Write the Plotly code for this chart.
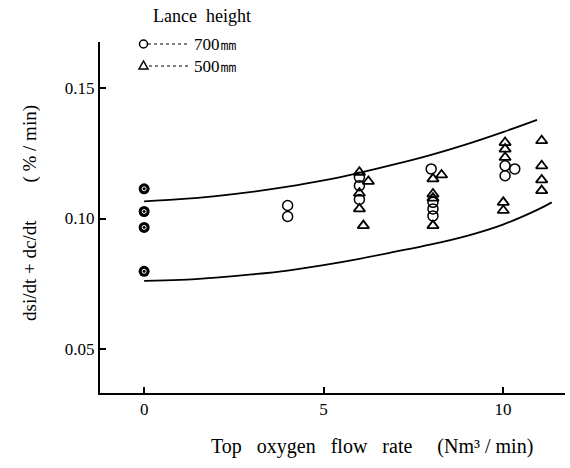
import plotly.graph_objects as go

# ---- data ----
zero_x = [0, 0, 0, 0]
zero_y = [0.1114, 0.1027, 0.0966, 0.0798]

circ_x = [4.0, 4.0, 6.0, 6.0, 6.0, 8.0, 8.05, 8.05, 8.05, 10.06, 10.33, 10.06]
circ_y = [0.1050, 0.1008, 0.1158, 0.1126, 0.1073, 0.1190, 0.1062, 0.1037, 0.1010, 0.1202, 0.1190, 0.1164]

tri_x = [6.0, 6.25, 6.0, 6.0, 6.11, 8.29, 8.05, 8.05, 8.05, 8.05,
         10.06, 10.06, 10.06, 10.01, 10.01, 11.08, 11.08, 11.08, 11.08]
tri_y = [0.1177, 0.1142, 0.1097, 0.1037, 0.0973, 0.1167, 0.1152, 0.1094, 0.1078, 0.0973,
         0.1291, 0.1266, 0.1234, 0.1062, 0.1031, 0.1298, 0.1202, 0.1148, 0.1107]

upper_x = [0, 1, 2, 3, 4, 5, 6, 7, 8, 9, 10, 10.95]
upper_y = [0.1066, 0.1074, 0.1086, 0.1102, 0.1122, 0.1146, 0.1175, 0.1208, 0.1244, 0.1285, 0.1331, 0.1378]

lower_x = [0, 1, 2, 3, 4, 5, 6, 7, 8, 9, 10, 11, 11.36]
lower_y = [0.0761, 0.0765, 0.0774, 0.0786, 0.0801, 0.0822, 0.0846, 0.0873, 0.0901, 0.0934, 0.0977, 0.1036, 0.1062]

x_ticks = [0, 5, 10]
y_ticks = [0.05, 0.10, 0.15]
y_tick_text = ["0.05", "0.10", "0.15"]

FONT = "Liberation Serif"

fig = go.Figure()
fig.add_trace(go.Scatter(x=upper_x, y=upper_y, mode="lines", line=dict(color="black", width=1.8, shape="spline"), showlegend=False))
fig.add_trace(go.Scatter(x=lower_x, y=lower_y, mode="lines", line=dict(color="black", width=1.8, shape="spline"), showlegend=False))
fig.add_trace(go.Scatter(x=circ_x, y=circ_y, mode="markers",
                         marker=dict(symbol="circle-open", size=10, color="black", line=dict(width=1.5, color="black")),
                         showlegend=False))
fig.add_trace(go.Scatter(x=tri_x, y=tri_y, mode="markers",
                         marker=dict(symbol="triangle-up-open", size=10, color="black", line=dict(width=1.8, color="black")),
                         showlegend=False))
fig.add_trace(go.Scatter(x=zero_x, y=zero_y, mode="markers",
                         marker=dict(symbol="circle", size=11, color="black", line=dict(width=0)),
                         showlegend=False))
fig.add_trace(go.Scatter(x=zero_x, y=zero_y, mode="markers",
                         marker=dict(symbol="circle-open", size=4, color="white", line=dict(width=1, color="white")),
                         showlegend=False))

L, R, T, B = 100, 5, 42, 75
W, H = 570, 468
pw, ph = W - L - R, H - T - B

def px(x):
    return (x - L) / pw

def py(y):
    return (H - B - y) / ph

shapes = []
annotations = []
# legend
shapes.append(dict(type="circle", xref="paper", yref="paper",
                   x0=px(139.5), x1=px(147.5), y0=py(48), y1=py(40),
                   line=dict(color="black", width=1.5)))
shapes.append(dict(type="line", xref="paper", yref="paper",
                   x0=px(148), x1=px(188), y0=py(44), y1=py(44),
                   line=dict(color="black", width=1.2, dash="dot")))
shapes.append(dict(type="path", xref="paper", yref="paper",
                   path=f"M {px(139)} {py(69)} L {px(148)} {py(69)} L {px(143.5)} {py(61)} Z",
                   line=dict(color="black", width=1.5)))
shapes.append(dict(type="line", xref="paper", yref="paper",
                   x0=px(149), x1=px(188), y0=py(66), y1=py(66),
                   line=dict(color="black", width=1.2, dash="dot")))
annotations.append(dict(text="Lance  height", xref="paper", yref="paper", x=px(151), y=py(16),
                        xanchor="left", yanchor="middle", showarrow=False,
                        font=dict(family=FONT, size=18, color="black")))
annotations.append(dict(text="700㎜", xref="paper", yref="paper", x=px(192), y=py(44),
                        xanchor="left", yanchor="middle", showarrow=False,
                        font=dict(family=FONT, size=17, color="black")))
annotations.append(dict(text="500㎜", xref="paper", yref="paper", x=px(192), y=py(66),
                        xanchor="left", yanchor="middle", showarrow=False,
                        font=dict(family=FONT, size=17, color="black")))
# axis titles
annotations.append(dict(text="dsi/dt + dc/dt        ( % / min)", xref="paper", yref="paper", x=px(30), y=py(213),
                        xanchor="center", yanchor="middle", textangle=-90, showarrow=False,
                        font=dict(family=FONT, size=19, color="black")))
annotations.append(dict(text="Top   oxygen   flow   rate     (Nm³ / min)", xref="paper", yref="paper", x=px(372), y=py(446),
                        xanchor="center", yanchor="middle", showarrow=False,
                        font=dict(family=FONT, size=20, color="black")))

fig.update_layout(
    width=W, height=H,
    margin=dict(l=L, r=R, t=T, b=B),
    paper_bgcolor="white", plot_bgcolor="white",
    shapes=shapes, annotations=annotations,
    xaxis=dict(range=[-1.23, 11.73], tickvals=x_ticks, ticks="inside", ticklen=6, tickwidth=1.5,
               tickcolor="black", showgrid=False, zeroline=False, showline=True, linecolor="black",
               linewidth=2, tickfont=dict(family=FONT, size=17, color="black")),
    yaxis=dict(range=[0.0332, 0.1676], tickvals=y_ticks, ticktext=y_tick_text, ticks="inside", ticklen=6,
               tickwidth=1.5, tickcolor="black", showgrid=False, zeroline=False, showline=True,
               linecolor="black", linewidth=2, tickfont=dict(family=FONT, size=17, color="black")),
)

fig.write_html("out.html")
